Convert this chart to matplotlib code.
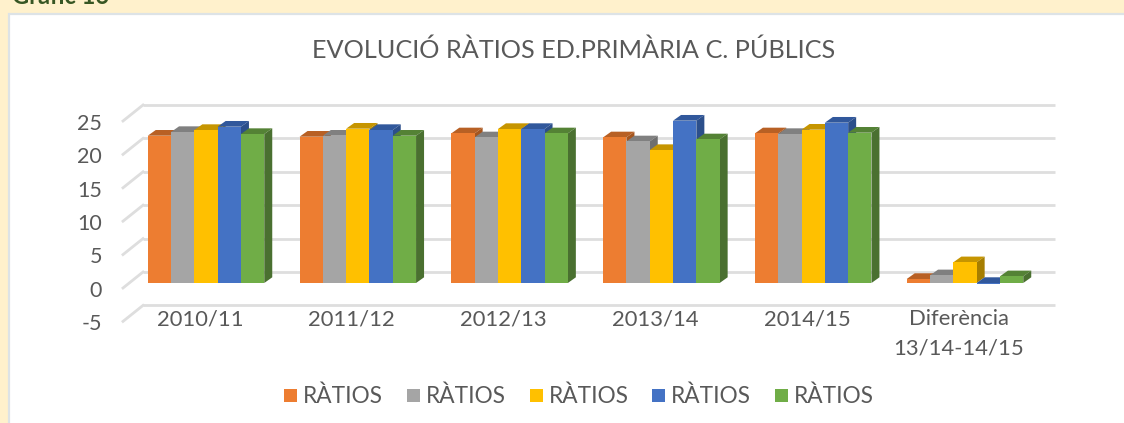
import matplotlib
matplotlib.use('Agg')
import matplotlib.pyplot as plt
from matplotlib.patches import Polygon, Rectangle

labels = ['2010/11', '2011/12', '2012/13', '2013/14', '2014/15', 'Diferència\n13/14-14/15']
serie1 = [22.05, 21.9, 22.4, 21.8, 22.4, 0.6]
serie2 = [22.6, 22.05, 21.8, 21.2, 22.3, 1.15]
serie3 = [22.9, 23.1, 23.05, 19.9, 22.95, 3.1]
serie4 = [23.4, 22.9, 23.05, 24.3, 24.0, -0.2]
serie5 = [22.3, 22.05, 22.4, 21.5, 22.5, 1.0]
yticks = [-5, 0, 5, 10, 15, 20, 25]
legend_names = ['RÀTIOS'] * 5

colors = ['#ED7D31', '#A5A5A5', '#FFC000', '#4472C4', '#70AD47']
tops = ['#B86024', '#808080', '#C69500', '#31589C', '#548235']
sides = ['#A5561F', '#6F6F6F', '#A67E00', '#2C4F8B', '#4A7030']
W, H = 1124, 423
GRID = '#DEDEDE'
TXT = '#595959'
FONT = 'Lato'

fig = plt.figure(figsize=(W / 100, H / 100), dpi=100, facecolor='#FFF1CC')
bg = fig.add_axes([0, 0, 1, 1])
bg.set_xlim(0, W)
bg.set_ylim(H, 0)
bg.axis('off')
bg.add_patch(Rectangle((9, 14), W, H, fc='white', ec='#DDE3E6', lw=1.6))
bg.text(12, 4, 'Gràfic 16', color='#375623', fontsize=17, family=FONT, weight='bold', va='baseline')
bg.text(574, 50, 'EVOLUCIÓ RÀTIOS ED.PRIMÀRIA C. PÚBLICS', color=TXT, fontsize=18.2,
        family=FONT, ha='center', va='center')

# axes in px horizontally, value units vertically (front plane of the bars)
ax = fig.add_axes([0, 0, 1, 1], facecolor='none')
ax.set_xlim(0, W)
unit = 6.68
ax.set_ylim((283 - H) / unit, 283 / unit)
ax.axis('off')

# depth offsets expressed in value units
grid_dy = 11 / unit
front_dy = -5 / unit
for v in yticks:
    ax.plot([143, 1055], [v + grid_dy, v + grid_dy], color=GRID, lw=2, zorder=1, solid_capstyle='butt')
    ax.plot([123, 143], [v + front_dy, v + grid_dy], color=GRID, lw=2, zorder=1)
    ax.text(102, v + front_dy - 0.42, str(v), color=TXT, fontsize=15.5, family=FONT, ha='right', va='center')

bw = 23.3
dx, dy = 8, 5.7 / unit
series = [serie1, serie2, serie3, serie4, serie5]
for k, vals in enumerate(series):
    xs = [206 + 151.8 * i + (k - 2) * bw for i in range(len(labels))]
    ax.bar(xs, vals, width=bw, color=colors[k], zorder=3 + k * 3)
    for x, v in zip(xs, vals):
        l, r = x - bw / 2, x + bw / 2
        t = max(v, 0)
        ax.add_patch(Polygon([(l, t), (l + dx, t + dy), (r + dx, t + dy), (r, t)],
                             fc=tops[k], ec='none', zorder=2 + k * 3))
        ax.add_patch(Polygon([(r, 0), (r + dx, dy), (r + dx, t + dy), (r, t)],
                             fc=sides[k], ec='none', zorder=2 + k * 3))

for i, lab in enumerate(labels):
    ax.text(206 + 151.8 * i - 6, -3.9, lab, color=TXT, fontsize=15.8, family=FONT,
            ha='center', va='top', linespacing=1.58)

# legend
lx = [284, 407, 530, 652, 775]
for x, c, name in zip(lx, colors, legend_names):
    bg.add_patch(Rectangle((x, 389), 13, 13, fc=c, ec='none'))
    bg.text(x + 19, 396, name, color=TXT, fontsize=16.3, family=FONT, va='center')

fig.savefig('out.png', dpi=100, facecolor=fig.get_facecolor())
